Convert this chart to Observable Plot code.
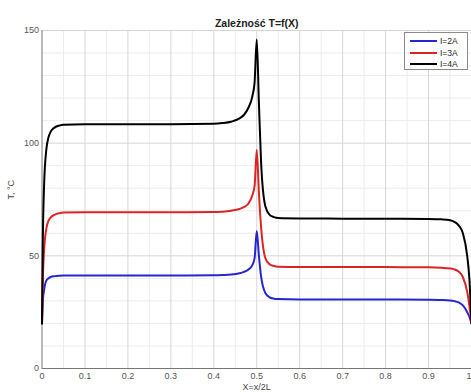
<!DOCTYPE html>
<html>
<head>
<meta charset="utf-8">
<script src="https://cdn.jsdelivr.net/npm/d3@7"></script>
<script src="https://cdn.jsdelivr.net/npm/@observablehq/plot@0.6"></script>
<style>
  body { margin: 0; background: #fff; }
  #wrap { position: relative; width: 471px; height: 392px; overflow: hidden; font-family: "Liberation Sans", Arial, sans-serif; }
  #legend { position: absolute; left: 404px; top: 32px; width: 64px; height: 38px; border: 1px solid #8a8a8a; background: #fff; box-sizing: border-box; }
  .row { position: absolute; left: 0; height: 10px; width: 64px; }
  .sw { position: absolute; left: 5px; top: 4px; width: 27px; height: 2px; }
  .lab { position: absolute; left: 35px; top: 0px; font-size: 8.5px; line-height: 10px; color: #222; }
</style>
</head>
<body>
<div id="wrap"></div>
<script>
// ---- data ----
const xs = [0, 0.002, 0.005, 0.01, 0.015, 0.02, 0.03, 0.04, 0.05, 0.1, 0.2, 0.3, 0.4, 0.42, 0.44, 0.46, 0.47, 0.48, 0.49, 0.495, 0.5, 0.505, 0.51, 0.52, 0.53, 0.54, 0.55, 0.6, 0.7, 0.8, 0.9, 0.93, 0.95, 0.96, 0.97, 0.98, 0.99, 0.995, 1.0];
const tI2 = [20, 30, 35, 39, 40, 40.6, 41, 41.2, 41.3, 41.3, 41.3, 41.3, 41.4, 41.5, 41.7, 42.3, 42.9, 43.8, 46, 49, 61, 50, 41, 33.5, 31.6, 31, 30.8, 30.6, 30.6, 30.6, 30.5, 30.4, 30.2, 29.9, 29.3, 28, 25, 23, 20];
const tI3 = [20, 40, 53, 62, 65.5, 67, 68.3, 68.9, 69.2, 69.3, 69.3, 69.3, 69.4, 69.6, 70, 70.8, 71.6, 73, 77, 81, 97, 78, 63, 49, 46.2, 45.5, 45.2, 45, 45, 45, 44.9, 44.7, 44.4, 44, 43, 40.5, 34, 28, 20];
const tI4 = [20, 58, 82, 97, 102.5, 105, 107, 107.8, 108.2, 108.4, 108.4, 108.4, 108.6, 108.9, 109.5, 111, 112.5, 115.5, 121, 127, 146, 118, 92, 72, 68.2, 67.2, 66.8, 66.6, 66.5, 66.5, 66.4, 66.2, 65.8, 65.1, 63.5, 60, 50, 40, 20];
const seriesNames = ["I=2A", "I=3A", "I=4A"];
const seriesColors = ["#2626d0", "#dd2424", "#000000"];
const xTicks = [0, 0.1, 0.2, 0.3, 0.4, 0.5, 0.6, 0.7, 0.8, 0.9];
const xLastTick = [1];
const xMinor = [0.05, 0.15, 0.25, 0.35, 0.45, 0.55, 0.65, 0.75, 0.85, 0.95];
const yTicks = [0, 50, 100, 150];
const yMinor = [10, 20, 30, 40, 60, 70, 80, 90, 110, 120, 130, 140];
const titleText = "Zależność T=f(X)";
const xLabel = "X=x/2L";
const yLabel = "T, °C";

const allSeries = [tI2, tI3, tI4];
const rows = [];
allSeries.forEach((vals, k) => xs.forEach((x, i) => rows.push({x, T: vals[i], s: seriesNames[k]})));

const chart = Plot.plot({
  width: 471,
  height: 392,
  marginLeft: 41.5,
  marginRight: 0,
  marginTop: 30,
  marginBottom: 24,
  style: { fontFamily: "Liberation Sans, Arial, sans-serif", background: "#fff", overflow: "visible" },
  x: { domain: [0, 1] },
  y: { domain: [0, 150] },
  color: { domain: seriesNames, range: seriesColors },
  marks: [
    Plot.ruleX(xMinor, { stroke: "#ececec", strokeWidth: 1 }),
    Plot.ruleY(yMinor, { stroke: "#ececec", strokeWidth: 1 }),
    Plot.ruleX(xTicks.slice(1).concat(xLastTick), { stroke: "#d6d6d6", strokeWidth: 1 }),
    Plot.ruleY(yTicks.slice(1), { stroke: "#d6d6d6", strokeWidth: 1 }),
    Plot.ruleX([0], { stroke: "#777", strokeWidth: 1 }),
    Plot.ruleY([0], { stroke: "#777", strokeWidth: 1 }),
    Plot.axisX({ ticks: xTicks, tickSize: 0, tickPadding: 4, tickFormat: d => String(d), fontSize: 9, color: "#555", label: null }),
    Plot.axisX({ ticks: xLastTick, tickSize: 0, tickPadding: 4, tickFormat: d => String(d), fontSize: 9, color: "#555", label: null, textAnchor: "end" }),
    Plot.axisY({ ticks: yTicks, tickSize: 0, tickPadding: 3, fontSize: 9, color: "#555", label: null }),
    Plot.line(rows, { x: "x", y: "T", z: "s", stroke: "s", strokeWidth: 2, curve: "monotone-x" }),
    Plot.text([titleText], { frameAnchor: "top", dy: -11, fontSize: 10.5, fontWeight: "bold", fill: "#222" }),
    Plot.text([xLabel], { frameAnchor: "bottom", dy: 21, fontSize: 9, fill: "#444" }),
    Plot.text([yLabel], { frameAnchor: "left", dx: -31, rotate: -90, fontSize: 9, fill: "#444" })
  ]
});
document.getElementById("wrap").appendChild(chart);

// legend
const leg = document.createElement("div");
leg.id = "legend";
seriesNames.forEach((name, k) => {
  const r = document.createElement("div");
  r.className = "row";
  r.style.top = (3 + k * 11.5) + "px";
  const sw = document.createElement("div");
  sw.className = "sw";
  sw.style.background = seriesColors[k];
  const lb = document.createElement("div");
  lb.className = "lab";
  lb.textContent = name;
  r.appendChild(sw); r.appendChild(lb);
  leg.appendChild(r);
});
document.getElementById("wrap").appendChild(leg);
</script>
</body>
</html>
